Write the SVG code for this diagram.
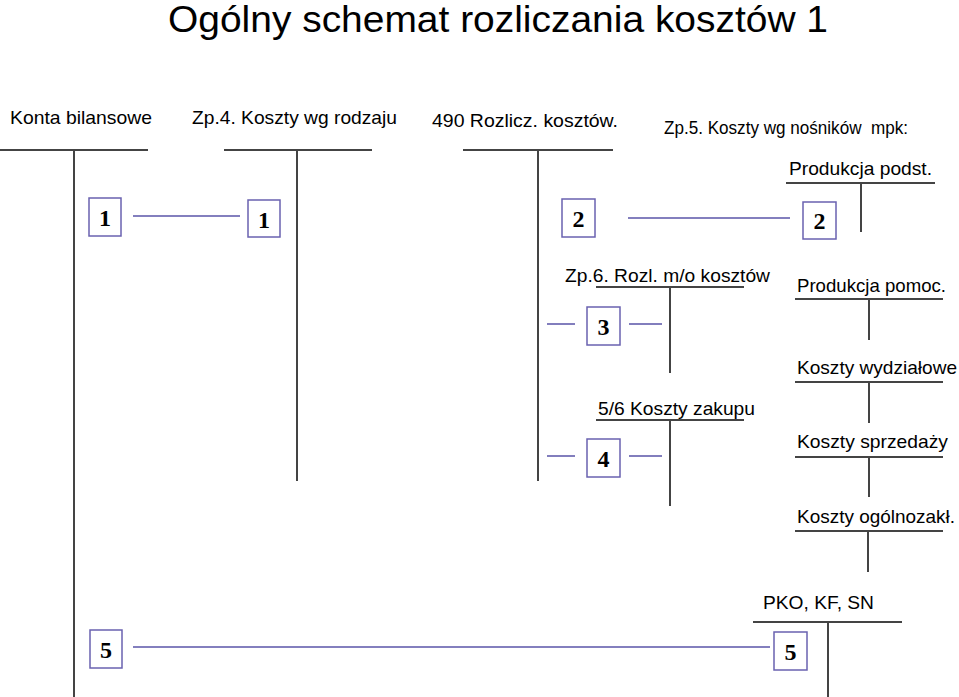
<svg xmlns="http://www.w3.org/2000/svg" width="959" height="697" viewBox="0 0 959 697">
<style>
.t{font-family:"Liberation Sans",Arial,sans-serif;fill:#000}
.h{font-size:19px}
.acc{stroke:#444;stroke-width:2;fill:none}
.box{fill:#fff;stroke:#6a62b0;stroke-width:1.5}
.num{font-family:"Liberation Serif","Times New Roman",serif;font-weight:bold;font-size:24px;text-anchor:middle;fill:#000}
.con{stroke:#5a54a8;stroke-width:1.5;fill:none}
</style>
<rect width="959" height="697" fill="#fff"/>
<text class="t" x="168" y="32" font-size="37" textLength="660" lengthAdjust="spacingAndGlyphs">Ogólny schemat rozliczania kosztów 1</text>

<g id="konta-bilansowe">
<text class="t h" x="10" y="124" textLength="142" lengthAdjust="spacingAndGlyphs">Konta bilansowe</text>
<path class="acc" d="M0 150H148M74 150V697"/>
</g>
<g id="zp4">
<text class="t h" x="192" y="124" textLength="205" lengthAdjust="spacingAndGlyphs">Zp.4. Koszty wg rodzaju</text>
<path class="acc" d="M224 150H372M297 150V481"/>
</g>
<g id="k490">
<text class="t h" x="432" y="127" textLength="186" lengthAdjust="spacingAndGlyphs">490 Rozlicz. kosztów.</text>
<path class="acc" d="M463 150H613M538 150V481"/>
</g>
<g id="zp5">
<text class="t h" x="664" y="134" textLength="244" lengthAdjust="spacingAndGlyphs">Zp.5. Koszty wg nośników&#160; mpk:</text>
</g>
<g id="produkcja-podst">
<text class="t h" x="789" y="175" textLength="143" lengthAdjust="spacingAndGlyphs">Produkcja podst.</text>
<path class="acc" d="M786 183H935M861 183V232"/>
</g>
<g id="zp6">
<text class="t h" x="565" y="282" textLength="205" lengthAdjust="spacingAndGlyphs">Zp.6. Rozl. m/o kosztów</text>
<path class="acc" d="M596 287H744M670 287V373"/>
</g>
<g id="koszty-zakupu">
<text class="t h" x="598" y="415" textLength="157" lengthAdjust="spacingAndGlyphs">5/6 Koszty zakupu</text>
<path class="acc" d="M596 420H744M670 420V506"/>
</g>
<g id="produkcja-pomoc">
<text class="t h" x="797" y="292" textLength="149" lengthAdjust="spacingAndGlyphs">Produkcja pomoc.</text>
<path class="acc" d="M795 299H943M869 299V340"/>
</g>
<g id="koszty-wydzialowe">
<text class="t h" x="797" y="374" textLength="160" lengthAdjust="spacingAndGlyphs">Koszty wydziałowe</text>
<path class="acc" d="M795 382H943M869 382V423"/>
</g>
<g id="koszty-sprzedazy">
<text class="t h" x="797" y="448" textLength="151" lengthAdjust="spacingAndGlyphs">Koszty sprzedaży</text>
<path class="acc" d="M795 457H943M869 457V497"/>
</g>
<g id="koszty-ogolnozakl">
<text class="t h" x="797" y="523" textLength="158" lengthAdjust="spacingAndGlyphs">Koszty ogólnozakł.</text>
<path class="acc" d="M795 531H943M868 531V572"/>
</g>
<g id="pko">
<text class="t h" x="763" y="609" textLength="111" lengthAdjust="spacingAndGlyphs">PKO, KF, SN</text>
<path class="acc" d="M753 622H902M828 622V697"/>
</g>

<g id="connectors">
<path class="con" d="M133 216H240"/>
<path class="con" d="M628 218H790"/>
<path class="con" d="M547 324H575M629 324H662"/>
<path class="con" d="M547 456H575M629 456H662"/>
<path class="con" d="M133 647H770"/>
</g>

<g id="box-1a"><rect class="box" x="89" y="198" width="32" height="38"/><text class="num" x="105" y="226">1</text></g>
<g id="box-1b"><rect class="box" x="248" y="200" width="32" height="37"/><text class="num" x="264" y="228">1</text></g>
<g id="box-2a"><rect class="box" x="562" y="199" width="33" height="38"/><text class="num" x="578.5" y="227">2</text></g>
<g id="box-2b"><rect class="box" x="803" y="202" width="33" height="37"/><text class="num" x="819.5" y="229">2</text></g>
<g id="box-3"><rect class="box" x="587" y="307" width="33" height="38"/><text class="num" x="603.5" y="335">3</text></g>
<g id="box-4"><rect class="box" x="587" y="439" width="33" height="38"/><text class="num" x="603.5" y="467">4</text></g>
<g id="box-5a"><rect class="box" x="90" y="630" width="32" height="38"/><text class="num" x="106" y="658">5</text></g>
<g id="box-5b"><rect class="box" x="774" y="632" width="33" height="38"/><text class="num" x="790.5" y="660">5</text></g>
</svg>
